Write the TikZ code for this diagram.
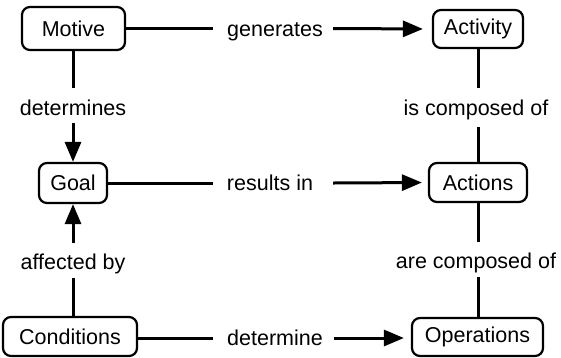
\documentclass[tikz,border=0pt]{standalone}
\usepackage{fontspec}
\setmainfont{Liberation Sans}
\usetikzlibrary{arrows.meta,calc}
\tikzset{
  labelfont/.style={font=\fontsize{21.5pt}{25pt}\selectfont},
  concept/.style={draw, line width=2.2pt, rounded corners=8pt, inner sep=0pt, labelfont},
  hlabel/.style={inner sep=0pt, text height=15pt, text depth=0pt, anchor=center, labelfont},
  vlabel/.style={inner sep=0pt, text height=15pt, text depth=0pt, anchor=base, labelfont},
  link/.style={line width=3pt},
  linkarrow/.style={line width=3pt, -{Triangle[length=20pt,width=16pt]}}
}
\begin{document}
\begin{tikzpicture}[x=1pt,y=-1pt]
\useasboundingbox (0,0) rectangle (561,357);

% concepts
\node[concept, minimum width=103pt, minimum height=43pt] (motive) at (73.5,28.5) {Motive};
\node[concept, minimum width=90pt,  minimum height=38pt] (activity) at (478,29) {Activity};
\node[concept, minimum width=68pt,  minimum height=40pt] (goal) at (73,183) {Goal};
\node[concept, minimum width=98pt,  minimum height=39pt] (actions) at (478,182.5) {Actions};
\node[concept, minimum width=134pt, minimum height=39pt] (conditions) at (70,336.5) {Conditions};
\node[concept, minimum width=131pt, minimum height=38pt] (operations) at (477.5,337) {Operations};

% linking phrases
\node[hlabel] (gen) at (275,28.5) {generates};
\node[hlabel] (res) at (270,183) {results in};
\node[hlabel] (detm) at (275,338) {determine};
\node[vlabel] (dets) at (73,115) {determines};
\node[vlabel] (isc) at (476,115) {is composed of};
\node[vlabel] (aff) at (73,269) {affected by};
\node[vlabel] (arec) at (476,268) {are composed of};

% horizontal links
\draw[link] (motive.east) -- ($(gen.west)+(-14,0)$);
\draw[linkarrow, shorten >=9pt] ($(gen.east)+(10,0)$) -- (activity.west);
\draw[link] (goal.east) -- ($(res.west)+(-14,0)$);
\draw[linkarrow, shorten >=6pt] ($(res.east)+(20,0)$) -- (actions.west);
\draw[link] (conditions.east |- detm) -- ($(detm.west)+(-14,0)$);
\draw[linkarrow, shorten >=7pt] ($(detm.east)+(11,0)$) -- (operations.west |- detm);

% vertical links, left column
\draw[link] (motive.south -| goal) -- ($(dets.north -| goal)+(0,-12)$);
\draw[linkarrow] ($(dets.south -| goal)+(0,8)$) -- (goal.north);
\draw[linkarrow] ($(aff.north -| goal)+(0,-11)$) -- (goal.south);
\draw[link] (conditions.north -| goal) -- ($(aff.south -| goal)+(0,9)$);

% vertical links, right column
\draw[link] (activity.south) -- ($(isc.north -| activity)+(0,-12)$);
\draw[link] ($(isc.south -| activity)+(0,12)$) -- (actions.north -| activity);
\draw[link] (actions.south -| activity) -- ($(arec.north -| activity)+(0,-11)$);
\draw[link] ($(arec.south -| activity)+(0,9)$) -- (operations.north -| activity);
\end{tikzpicture}
\end{document}
